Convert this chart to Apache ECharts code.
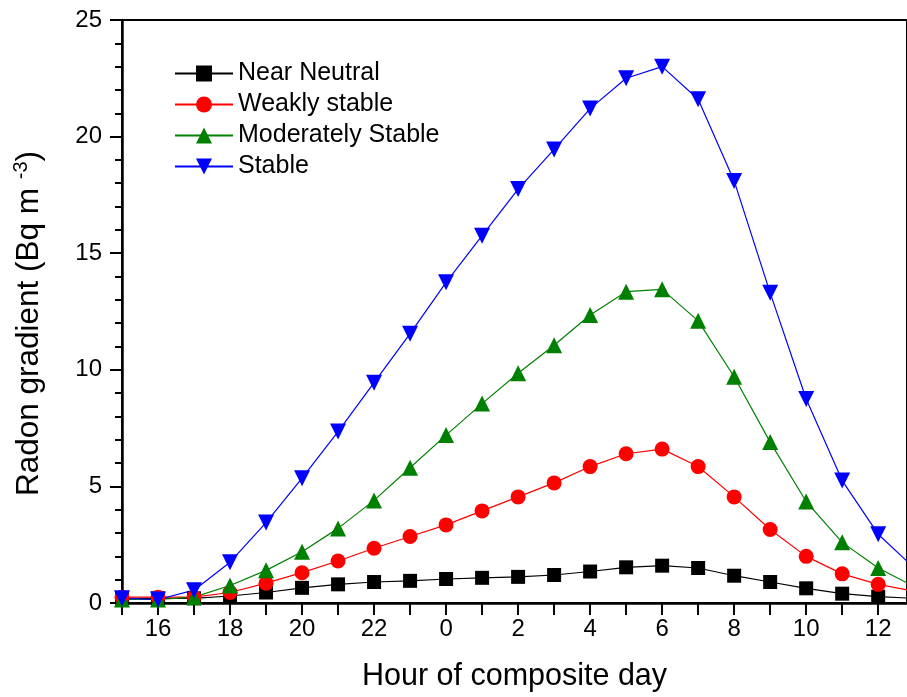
<!DOCTYPE html>
<html>
<head>
<meta charset="utf-8">
<script src="https://cdn.jsdelivr.net/npm/echarts@6/dist/echarts.min.js"></script>
<style>html,body{margin:0;padding:0;background:#fff}#c{width:907px;height:697px}</style>
</head>
<body>
<div id="c"></div>
<script>
// Hours (continuous; 24+ means next day), starting at 15:00
const hours = [15,16,17,18,19,20,21,22,23,24,25,26,27,28,29,30,31,32,33,34,35,36,37];
const nearNeutral = [0.2,0.2,0.2,0.3,0.45,0.65,0.8,0.9,0.95,1.03,1.08,1.12,1.2,1.35,1.53,1.6,1.5,1.17,0.9,0.63,0.4,0.27,0.2];
const weaklyStable = [0.25,0.25,0.25,0.45,0.85,1.3,1.8,2.35,2.85,3.35,3.95,4.55,5.15,5.85,6.4,6.6,5.85,4.55,3.15,2.0,1.25,0.8,0.5];
const moderatelyStable = [0.15,0.15,0.25,0.75,1.4,2.2,3.2,4.4,5.8,7.2,8.55,9.85,11.05,12.35,13.35,13.45,12.1,9.7,6.9,4.35,2.6,1.5,0.7];
const stable = [0.2,0.15,0.55,1.75,3.45,5.35,7.35,9.45,11.55,13.75,15.75,17.75,19.45,21.2,22.5,23.0,21.6,18.1,13.3,8.75,5.25,2.95,1.5];
const seriesNames = ['Near Neutral','Weakly stable','Moderately Stable','Stable'];
const yTicks = [0,5,10,15,20,25];
const xMin = 15, xMax = 36.8;

const font = 'Arial, "Liberation Sans", sans-serif';
const zip = arr => hours.map((h,i)=>[h,arr[i]]);

const chart = echarts.init(document.getElementById('c'), null, {renderer:'canvas'});
const mk = (name, data, color, symbol, rot, size) => ({
  name, type:'line', data: zip(data), symbol, symbolSize:size, symbolRotate: rot,
  lineStyle:{color, width:1.2}, itemStyle:{color}, clip:true, animation:false
});
chart.setOption({
  animation:false,
  grid:{left:122, top:20, right:0, bottom:94, show:true, borderColor:'#000', borderWidth:2, backgroundColor:'transparent'},
  legend:{
    orient:'vertical', left:169, top:56, itemWidth:58, itemHeight:20, itemGap:6,
    textStyle:{fontFamily:font, fontSize:25, color:'#000'},
    data: seriesNames
  },
  xAxis:{
    type:'value', min:xMin, max:xMax, interval:1,
    name:'Hour of composite day', nameLocation:'middle', nameGap:58,
    nameTextStyle:{fontFamily:font, fontSize:30.5, color:'#000'},
    axisLine:{lineStyle:{color:'#000', width:2.5}},
    axisTick:{length:12, lineStyle:{color:'#000', width:2}},
    splitLine:{show:false},
    axisLabel:{fontFamily:font, fontSize:24, color:'#000', margin:14, showMaxLabel:false,
      formatter: v => (Number.isInteger(v) && v % 2 === 0 ? String(v % 24) : '')}
  },
  yAxis:{
    type:'value', min:yTicks[0], max:yTicks[yTicks.length-1], interval:5,
    name:'Radon gradient (Bq m {sup|-3})', nameLocation:'middle', nameGap:74,
    nameTextStyle:{fontFamily:font, fontSize:31.5, color:'#000', padding:[0,24,0,0],
      rich:{sup:{fontFamily:font, fontSize:20, color:'#000', padding:[0,0,17,0]}}},
    axisLine:{lineStyle:{color:'#000', width:2.5}},
    axisTick:{length:12, lineStyle:{color:'#000', width:2}},
    minorTick:{show:true, splitNumber:5, length:7, lineStyle:{color:'#000', width:2}},
    splitLine:{show:false},
    axisLabel:{fontFamily:font, fontSize:24, color:'#000', margin:20}
  },
  series:[
    mk(seriesNames[0], nearNeutral, '#000000', 'rect', 0, 14),
    mk(seriesNames[1], weaklyStable, '#ff0000', 'circle', 0, 15),
    mk(seriesNames[2], moderatelyStable, '#008000', 'triangle', 0, 16),
    mk(seriesNames[3], stable, '#0000ff', 'triangle', 180, 16)
  ]
});
</script>
</body>
</html>
